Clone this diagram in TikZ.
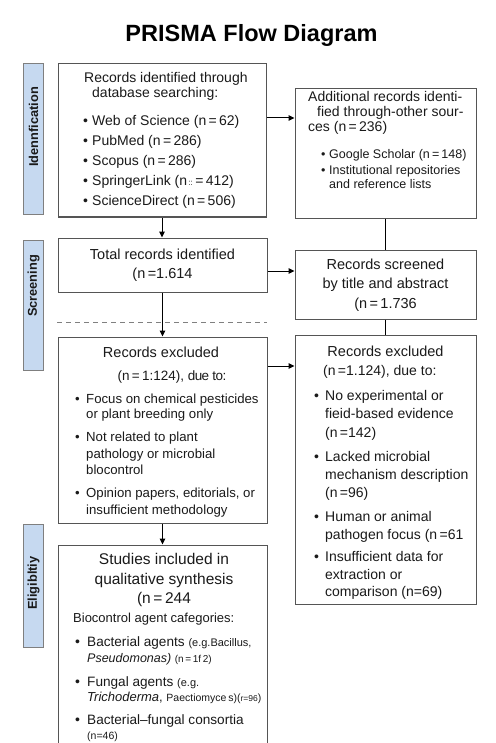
\documentclass[tikz,border=0pt]{standalone}
\usepackage{fontspec}
\setmainfont{Liberation Sans}
\usetikzlibrary{arrows.meta}
\newcounter{tln}
\newcommand\tline[4][]{\stepcounter{tln}\node[tx,anchor=base west,#1] (tl\arabic{tln}) at (#2,#3) {#4};}
\newcommand\tcen[4][]{\stepcounter{tln}\node[tx,anchor=base,#1] (tl\arabic{tln}) at (#2,#3) {#4};}
\newcommand\bul[4][]{\stepcounter{tln}\node[tx,anchor=base west,#1] (bu\arabic{tln}) at (#2,#3) {•};}
\newcommand\fs[1]{\fontsize{#1}{#1}\selectfont}
\definecolor{bxline}{HTML}{555555}
\definecolor{barfill}{HTML}{C6D9F0}
\definecolor{barline}{HTML}{7F7F7F}
\definecolor{txt}{HTML}{1A1A1A}
\tikzset{
  box/.style={draw=bxline,line width=1pt,fill=white,inner sep=0pt,rectangle},
  bar/.style={draw=barline,line width=1pt,fill=barfill,inner sep=0pt,rectangle,minimum width=20pt},
  barlab/.style={rotate=90,inner sep=0pt,font=\bfseries\fs{12.8},text=txt},
  tx/.style={inner sep=0pt,text=txt,font=\fs{14}},
  arr/.style={draw=black,line width=1pt,-{Triangle[length=6pt,width=5.5pt]}},
  ln/.style={draw=black,line width=1pt},
  dsh/.style={draw=gray,line width=0.9pt,dash pattern=on 5pt off 4pt}
}
\begin{document}
\begin{tikzpicture}[x=1pt,y=-1pt]
\useasboundingbox (0,0) rectangle (495,743);
\clip (0,0) rectangle (495,743);
% title
\node[inner sep=0pt,anchor=base,font=\bfseries\fs{23.5},text=black] (title) at (251.5,42) {PRISMA Flow Diagram};
% side bars
\node[bar,minimum height=151pt] (barid) at (33,139.5) {};
\node[bar,minimum height=130pt] (barsc) at (33,305) {};
\node[bar,minimum height=123pt] (barel) at (33,585.5) {};
\node[barlab] (labid) at (33.5,127) {Idennfication};
\node[barlab] (labsc) at (33.5,286) {Screening};
\node[barlab] (label) at (33.5,583) {Eligibltiy};
% boxes
\node[box,minimum width=208pt,minimum height=153pt] (b1) at (162,140.5) {};
\node[box,minimum width=181pt,minimum height=129pt] (b2) at (385.5,153.5) {};
\node[box,minimum width=209pt,minimum height=54pt] (b3) at (162.5,265) {};
\node[box,minimum width=181pt,minimum height=69pt] (b4) at (385.5,284.5) {};
\node[box,minimum width=209pt,minimum height=186pt] (b5) at (162.5,430) {};
\node[box,minimum width=181pt,minimum height=269pt] (b6) at (385.5,469.5) {};
\node[box,minimum width=209pt,minimum height=215pt] (b7) at (162.5,652.5) {};
% connectors
\coordinate (y1) at (0,118);
\coordinate (y2) at (0,271);
\coordinate (y3) at (0,366);
\draw[arr] (b1.east |- y1) -- (b2.west |- y1);
\draw[arr] (b1.south) -- (b1.south |- b3.north);
\draw[ln] (b2.south) -- (b2.south |- b4.north);
\draw[arr] (b3.east |- y2) -- (b4.west |- y2);
\coordinate (d1) at (57,322);
\coordinate (d2) at (267,322);
\draw[dsh] (d1) -- (d2);
\draw[arr] (b3.south) -- (b3.south |- b5.north);
\draw[ln] (b4.south) -- (b4.south |- b6.north);
\draw[arr] (b5.east |- y3) -- (b6.west |- y3);
\draw[arr] (b5.south) -- (b5.south |- b7.north);
% box 1 text
\tline{84}{83}{Records identified through}
\tline{92}{98}{database searching:}
\bul{83}{126}{}\tline{92}{126}{Web of Science (n\,=\,62)}
\bul{83}{146}{}\tline{92}{146}{PubMed (n\,=\,286)}
\bul{83}{166}{}\tline{92}{166}{Scopus (n\,=\,286)}
\bul{83}{186}{}\tline{92}{186}{SpringerLink (n{\fs{8}\,::}\,=\,412)}
\bul{83}{206}{}\tline{92}{206}{ScienceDirect (n\,=\,506)}
% box 2 text
\tline{308}{102}{Additional records identi-}
\tline{317}{117}{fied through-other sour-}
\tline{308}{132}{ces (n\,=\,236)}
\bul[font=\fs{12.5}]{321}{158.5}{}\tline[font=\fs{12.5}]{329}{158.5}{Google Scholar (n\,=\,148)}
\bul[font=\fs{12.5}]{321}{174.5}{}\tline[font=\fs{12.5}]{329}{174.5}{Institutional repositories}
\tline[font=\fs{12.5}]{329}{188.5}{and reference lists}
% box 3 text
\tcen[font=\fs{14.5}]{162.5}{259}{Total records identified}
\tcen[font=\fs{14.5}]{162.5}{278}{(n\,=1.614}
% box 4 text
\tcen[font=\fs{14.5}]{385.5}{269}{Records screened}
\tcen[font=\fs{14.5}]{385.5}{288}{by title and abstract}
\tcen[font=\fs{14.5}]{385.5}{308}{(n\,=\,1.736}
% box 5 text
\tcen[font=\fs{14.5}]{161}{357}{Records excluded}
\tcen[font=\fs{13.5}]{172}{380}{(n\,=\,1:124), {\addfontfeature{LetterSpace=-4}due to:}}
\bul[font=\fs{13.2}]{75}{403}{}\tline[font=\fs{13.2}]{86}{403}{Focus on chemical pesticides}
\tline[font=\fs{13.2}]{86}{418}{or plant breeding only}
\bul[font=\fs{13.2}]{75}{441}{}\tline[font=\fs{13.2}]{86}{441}{Not related to plant}
\tline[font=\fs{13.2}]{86}{458}{pathology or microbial}
\tline[font=\fs{13.2}]{86}{474}{blocontrol}
\bul[font=\fs{13.2}]{75}{497}{}\tline[font=\fs{13.2}]{86}{497}{Opinion papers, editorials, or}
\tline[font=\fs{13.2}]{86}{514}{insufficient methodology}
% box 6 text
\tcen[font=\fs{14.5}]{385.5}{356}{Records excluded}
\tline{323}{375}{(n\,=1.124), due to:}
\bul{314}{400}{}\tline{325}{400}{No experimental or}
\tline{325}{418}{fieid-based evidence}
\tline{325}{437}{(n\,=142)}
\bul{314}{461}{}\tline{325}{461}{Lacked microbial}
\tline{325}{479}{mechanism description}
\tline{325}{497}{(n\,=96)}
\bul{314}{521}{}\tline{325}{521}{Human or animal}
\tline{325}{539}{pathogen focus (n\,=61}
\bul{314}{561}{}\tline{325}{561}{Insufficient data for}
\tline{325}{579}{extraction or}
\tline{325}{596}{comparison (n=69)}
% box 7 text
\tcen[font=\fs{15.5}]{164}{564}{Studies included in}
\tcen[font=\fs{15.5}]{164}{584}{qualitative synthesis}
\tcen[font=\fs{15.5}]{164}{603}{(n\,=\,244}
\tline[font=\fs{13}]{73}{622}{Biocontrol agent cafegories:}
\bul{75}{646}{}\tline[font=\fs{13.6}]{87}{646}{Bacterial agents {\fs{11}(e.g.Bacillus,}}
\tline[font=\fs{12.5}]{87}{662}{\textit{Pseudomonas)} {\fs{10}(n\,=\,1f\,2)}}
\bul{75}{686}{}\tline[font=\fs{13.6}]{87}{686}{Fungal agents {\fs{11}(e.g.}}
\tline[font=\fs{13}]{87}{701}{\textit{Trichoderma}, {\fs{10.5}Paectiomyce\,s)({\fs{8.5}r=96})}}
\bul{75}{724}{}\tline[font=\fs{13.6}]{87}{724}{Bacterial--fungal consortia}
\tline[font=\fs{10.5}]{87}{739}{(n=46)}
\end{tikzpicture}
\end{document}
